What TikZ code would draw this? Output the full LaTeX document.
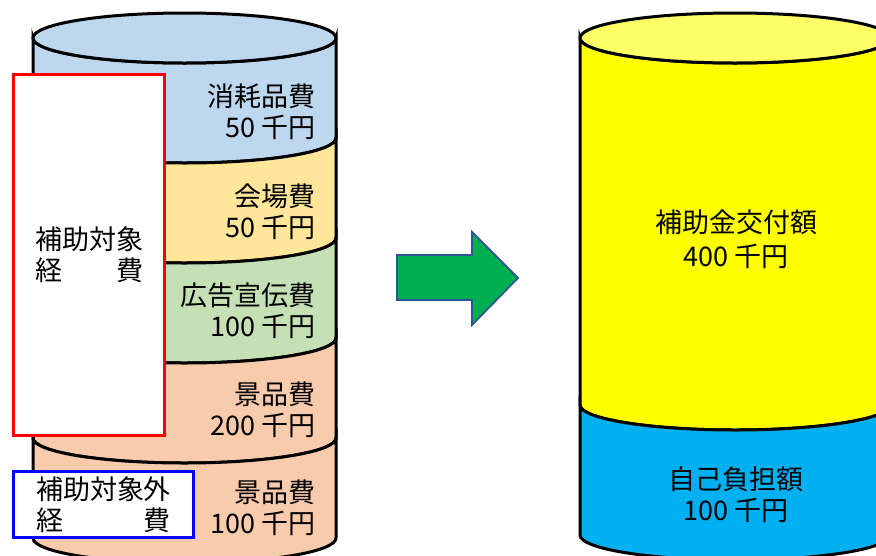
\documentclass[tikz,border=0pt]{standalone}
\usepackage{fontspec}
\setmainfont{Noto Sans CJK JP}
\usepackage{tikz}
\definecolor{shohin}{HTML}{BDD7EE}
\definecolor{kaijo}{HTML}{FFE699}
\definecolor{kokoku}{HTML}{C5E0B4}
\definecolor{keihin}{HTML}{F8CBAD}
\definecolor{kofu}{HTML}{FFFF00}
\definecolor{kofutop}{HTML}{FFFF66}
\definecolor{jiko}{HTML}{00B0F0}
\definecolor{yajirushi}{HTML}{00B050}
\definecolor{yajiwaku}{HTML}{2F5597}

\begin{document}
\begin{tikzpicture}[x=1pt,y=1pt,
	every node/.style={font=\fontsize{27}{31}\selectfont, inner sep=0pt},
	kingaku/.style={anchor=east, align=right},
	chuo/.style={align=center},
	waku/.style={draw=#1, line width=3.5pt, fill=white, align=center}]
\useasboundingbox (0,0) rectangle (876,-555);
\foreach \t/\b/\c in {38/138/shohin,138/238/kaijo,238/338/kokoku,338/438/keihin,438/538/keihin} {
		\filldraw[fill=\c, line width=3pt] (33,-\t) arc (180:360:151.5 and 25) -- (336,-\b) arc (0:-180:151.5 and 25) -- cycle;}
\filldraw[fill=shohin, line width=3pt] (184.5,-38) ellipse (151.5 and 25);
\foreach \t/\b/\c in {38/405/kofu,405/535/jiko} {
		\filldraw[fill=\c, line width=3pt] (580,-\t) arc (180:360:155 and 25) -- (890,-\b) arc (0:-180:155 and 25) -- cycle;}
\filldraw[fill=kofutop, line width=3pt] (735,-38) ellipse (155 and 25);
\filldraw[fill=yajirushi, draw=yajiwaku, line width=1.8pt] (397,-255) -- (472,-255) -- (472,-232) -- (518,-278) -- (472,-325) -- (472,-300) -- (397,-300) -- cycle;
\node[kingaku] (shohinhi) at (316,-112) {消耗品費\\50 千円};
\node[kingaku] (kaijohi) at (316,-212) {会場費\\50 千円};
\node[kingaku] (kokokuhi) at (316,-311) {広告宣伝費\\100 千円};
\node[kingaku] (keihinhi) at (316,-410) {景品費\\200 千円};
\node[kingaku] (keihingai) at (316,-508) {景品費\\100 千円};
\node[waku=red, minimum width=151pt, minimum height=361pt] (taisho) at (89,-255) {補助対象\\経　　費};
\node[waku=blue, minimum width=180pt, minimum height=66pt] (taishogai) at (103.5,-504.5) {補助対象外\\経　　　費};
\node[chuo, font=\fontsize{27}{34}\selectfont] (kofugaku) at (736,-239) {補助金交付額\\400 千円};
\node[chuo] (jikofutan) at (736,-494.5) {自己負担額\\100 千円};
\end{tikzpicture}
\end{document}
